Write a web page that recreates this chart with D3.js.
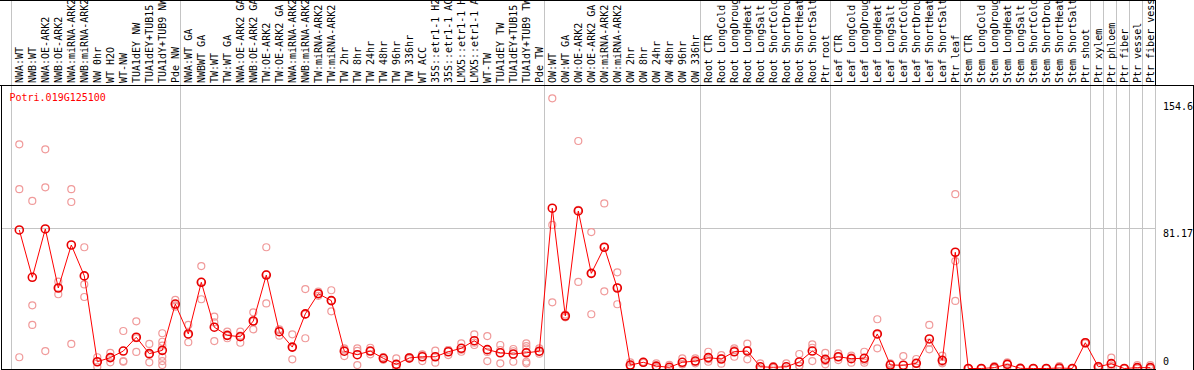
<!DOCTYPE html>
<html>
<head>
<meta charset="utf-8">
<script src="https://cdn.jsdelivr.net/npm/d3@7"></script>
<style>
  body { margin: 0; background: #fff; }
  svg { display: block; }
  text { font-family: "DejaVu Sans Mono", monospace; font-size: 10px; }
</style>
</head>
<body>
<svg></svg>
<script>
var width = 1194;
var height = 370;

var geneName = "Potri.019G125100";

// sample labels, as far as they are visible in the header
var labels = [
  "NWA:WT", "NWB:WT", "NWA:OE-ARK2", "NWB:OE-ARK2", "NWA:miRNA-ARK2", "NWB:miRNA-ARK2",
  "NW 0hr", "WT H2O", "WT-NW", "TUA1dEY NW", "TUA1dEY+TUB15", "TUA1dY+TUB9 NW", "Pde NW",
  "NWA:WT GA", "NWBWT GA", "TW:WT", "TW:WT GA", "NWA:OE-ARK2 GA", "NWB:OE-ARK2 GA",
  "TW:OE-ARK2", "TW:OE-ARK2 GA", "NWA:miRNA-ARK2", "NWB:miRNA-ARK2", "TW:miRNA-ARK2",
  "TW:miRNA-ARK2", "TW 2hr", "TW 8hr", "TW 24hr", "TW 48hr", "TW 96hr", "TW 336hr",
  "WT ACC", "35S::etr1-1 H2", "35S::etr1-1 AC", "LMX5::etr1-1 H", "LMX5::etr1-1 A",
  "WT-TW", "TUA1dEY TW", "TUA1dEY+TUB15", "TUA1dY+TUB9 TW", "Pde TW",
  "OW:WT", "OW:WT GA", "OW:OE-ARK2", "OW:OE-ARK2 GA", "OW:miRNA-ARK2", "OW:miRNA-ARK2",
  "OW 2hr", "OW 8hr", "OW 24hr", "OW 48hr", "OW 96hr", "OW 336hr",
  "Root CTR", "Root LongCold", "Root LongDroug", "Root LongHeat", "Root LongSalt",
  "Root ShortCold", "Root ShortDrou", "Root ShortHeat", "Root ShortSalt", "Ptr root",
  "Leaf CTR", "Leaf LongCold", "Leaf LongDroug", "Leaf LongHeat", "Leaf LongSalt",
  "Leaf ShortCold", "Leaf ShortDrou", "Leaf ShortHeat", "Leaf ShortSalt", "Ptr leaf",
  "Stem CTR", "Stem LongCold", "Stem LongDroug", "Stem LongHeat", "Stem LongSalt",
  "Stem ShortCold", "Stem ShortDrou", "Stem ShortHeat", "Stem ShortSalt", "Ptr shoot",
  "Ptr xylem", "Ptr phloem", "Ptr fiber", "Ptr vessel", "Ptr fiber vess"
];

// group separators (index of first sample after each break)
var groupBreaks = [0, 13, 41, 53, 63, 73, 83, 84, 85, 86, 87, 88];

var means = [
  80.2, 52.8, 80.8, 46.6, 71.5, 53.6, 3.9, 6.3, 10.1, 18.1, 8.6, 10.5, 37.3,
  20.0, 49.9, 23.9, 19.2, 18.4, 27.5, 54.1, 21.3, 12.4, 31.6, 43.3, 39.3,
  10.0, 8.0, 10.1, 5.9, 2.4, 6.1, 6.8, 6.8, 9.7, 11.7, 16.1, 10.9, 9.1, 8.4, 9.1, 10.0,
  92.8, 30.4, 91.2, 55.1, 70.2, 46.6, 2.0, 3.6, 1.4, 0.7, 3.6, 4.3,
  6.3, 5.5, 9.7, 10.1, 1.0, 0.7, 1.0, 3.8, 10.1, 5.3,
  6.8, 5.7, 5.9, 20.0, 2.0, 1.9, 3.0, 17.1, 4.7, 67.3,
  0, 0, 0.5, 2.4, 0.1, 0, 0, 0.3, 0, 14.9,
  1.0, 2.8, 0, 0.5, 0.5
];

var replicates = [
  [129.8, 103.8, 6.5], [97.0, 36.6, 25.2], [126.9, 104.9, 10.1], [50.3, 46.6, 43.0],
  [103.8, 96.4, 14.2], [70.2, 48.7, 41.4], [6.5, 3.9, 1.0], [9.1, 6.3, 3.6],
  [21.7, 3.9, 4.3], [27.3, 9.6, 17.5], [14.2, 3.6, 8.0],
  [20.4, 15.5, 13.2, 6.8, 4.3, 2.0], [39.7, 35.8, 36.5],
  [25.2, 15.2, 19.6], [59.3, 40.1, 50.2], [30.0, 26.7, 15.9], [21.3, 17.5, 18.9],
  [21.3, 14.9, 19.0], [32.5, 22.7, 27.3], [70.2, 37.7, 54.5], [22.7, 19.0, 22.2],
  [19.8, 5.3, 12.2], [46.0, 17.5, 31.3], [44.5, 42.1, 43.3], [45.3, 33.1, 39.4],
  [11.7, 7.2, 11.0], [11.7, 2.0, 10.2], [12.0, 8.2, 10.1], [6.0, 5.0, 6.6],
  [5.9, 0.9, 0.5], [6.6, 5.6, 6.1], [8.2, 4.3, 7.9], [10.3, 3.4, 6.8],
  [10.7, 7.8, 10.6], [14.6, 9.7, 10.8], [19.8, 13.6, 14.9], [18.8, 4.3, 9.6],
  [13.6, 3.0, 10.7], [10.0, 3.9, 11.3], [14.6, 13.0, 11.7, 9.4, 3.9, 3.0], [11.7, 8.6, 9.7],
  [156.4, 83.1, 38.3], [31.2, 30.4, 29.6], [131.7, 50.1, 91.8], [79.0, 31.4, 55.0],
  [95.6, 44.7, 70.3], [55.7, 37.2, 46.9], [3.6, 1.6, 0.8], [3.9, 3.3, 3.6],
  [3.0, 0.8, 0.4], [2.1, 0, 0], [5.9, 2.4, 2.5], [5.9, 3.0, 4.0],
  [9.7, 3.9, 5.3], [7.8, 2.8, 5.9], [11.7, 6.8, 10.6], [14.4, 5.3, 10.6],
  [3.0, 0, 0], [1.4, 0.4, 0.3], [3.0, 0, 0], [8.4, 1.4, 1.6], [14.0, 4.3, 12.0],
  [9.1, 2.4, 4.4],
  [8.8, 4.9, 6.7], [7.4, 3.4, 6.3], [9.7, 3.4, 4.6], [28.5, 11.7, 19.8], [3.0, 0.5, 2.5],
  [7.2, 0, 0], [5.5, 0.5, 3.0], [25.2, 11.1, 15.0], [7.4, 3.0, 3.7], [100.9, 62.2, 39.1],
  [0, 0, 0], [0, 0, 0], [1.4, 0, 0], [3.6, 2.9, 0.7], [0.3, 0, 0], [0, 0, 0],
  [0, 0, 0], [1.4, 0, 0], [0, 0, 0], [15.3, 14.9, 14.5],
  [1.6, 1.0, 0.4], [6.3, 1.6, 0.5], [0, 0, 0], [2.0, 0, 0], [2.0, 0, 0]
];

var yTicks = [0, 81.17, 154.6];
var yGrid = [81.17];

var headerBottom = 85;
var plotLeft = 11;
var plotRight = 1155;
var zeroY = 368.5;

var x = d3.scaleBand()
  .domain(d3.range(labels.length))
  .range([plotLeft, plotRight]);

var y = d3.scaleLinear()
  .domain([0, 81.17])
  .range([zeroY, 228.3]);

var cx = i => x(i) + 8.3;

var svg = d3.select("svg")
  .attr("width", width)
  .attr("height", height);

// vertical group lines
svg.append("g")
  .selectAll("line")
  .data(groupBreaks)
  .enter()
  .append("line")
    .attr("x1", d => x.step() * d + plotLeft + 0.5)
    .attr("x2", d => x.step() * d + plotLeft + 0.5)
    .attr("y1", 0)
    .attr("y2", 369)
    .attr("stroke", "#c4c4c4")
    .attr("stroke-width", 1);

// horizontal grid
svg.append("g")
  .selectAll("line")
  .data(yGrid)
  .enter()
  .append("line")
    .attr("x1", 1)
    .attr("x2", plotRight)
    .attr("y1", d => Math.round(y(d)) + 0.5)
    .attr("y2", d => Math.round(y(d)) + 0.5)
    .attr("stroke", "#c4c4c4");

// header labels
svg.append("g")
  .selectAll("text")
  .data(labels)
  .enter()
  .append("text")
    .attr("transform", (d, i) => `translate(${cx(i) + 3.5}, 83) rotate(-90)`)
    .attr("fill", "#000")
    .text(d => d);

// replicate points
var repData = [];
replicates.forEach((reps, i) => reps.forEach(v => repData.push({ i: i, v: v })));

svg.append("g")
  .selectAll("circle")
  .data(repData)
  .enter()
  .append("circle")
    .attr("cx", d => cx(d.i))
    .attr("cy", d => y(d.v))
    .attr("r", 3.5)
    .attr("fill", "none")
    .attr("stroke", "#f09a9a")
    .attr("stroke-width", 1.2);

// mean line
var line = d3.line()
  .x((d, i) => cx(i))
  .y(d => y(d));

svg.append("path")
  .datum(means)
  .attr("d", line)
  .attr("fill", "none")
  .attr("stroke", "#ff0000")
  .attr("stroke-width", 1);

svg.append("g")
  .selectAll("circle")
  .data(means)
  .enter()
  .append("circle")
    .attr("cx", (d, i) => cx(i))
    .attr("cy", d => y(d))
    .attr("r", 4)
    .attr("fill", "none")
    .attr("stroke", "#e80000")
    .attr("stroke-width", 1.6);

// frame
var frame = svg.append("g")
  .attr("stroke", "#000")
  .attr("stroke-width", 1);

frame.append("line").attr("x1", 0).attr("x2", plotRight).attr("y1", 0.5).attr("y2", 0.5);
frame.append("line").attr("x1", plotRight + 0.5).attr("x2", plotRight + 0.5).attr("y1", 0).attr("y2", headerBottom);
frame.append("line").attr("x1", 0).attr("x2", width).attr("y1", headerBottom + 0.5).attr("y2", headerBottom + 0.5);
frame.append("line").attr("x1", 1.5).attr("x2", 1.5).attr("y1", headerBottom).attr("y2", 370);
frame.append("line").attr("x1", 1).attr("x2", plotRight + 1).attr("y1", 369.5).attr("y2", 369.5);
frame.append("line").attr("x1", width - 0.5).attr("x2", width - 0.5).attr("y1", headerBottom).attr("y2", 370);

// value labels on the right
svg.append("g")
  .selectAll("text")
  .data(yTicks)
  .enter()
  .append("text")
    .attr("x", 1163)
    .attr("y", d => d === 0 ? y(d) - 3.5 : y(d) + 8.5)
    .attr("fill", "#000")
    .text(d => d);

// gene name
svg.append("text")
  .attr("x", 9.5)
  .attr("y", 101)
  .attr("fill", "#ff0000")
  .text(geneName);
</script>
</body>
</html>
